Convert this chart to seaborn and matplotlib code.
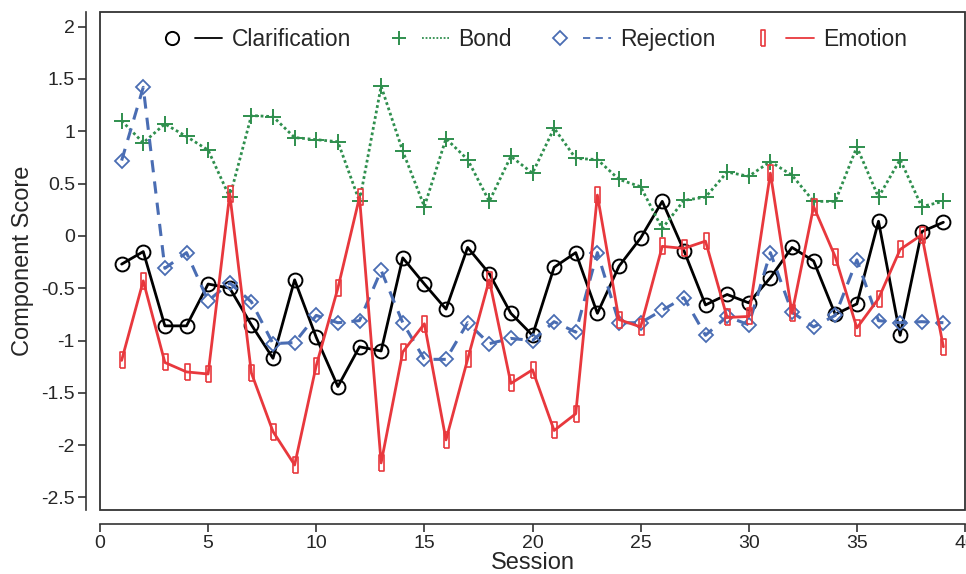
import numpy as np
import pandas as pd
import matplotlib
matplotlib.use('Agg')
import matplotlib.pyplot as plt
import seaborn as sns
from matplotlib.lines import Line2D
from matplotlib.patches import Rectangle
from matplotlib.legend_handler import HandlerTuple

# component scores per session
sessions = list(range(1, 40))
clarification = [-0.27, -0.15, -0.86, -0.86, -0.46, -0.50, -0.85, -1.17, -0.42, -0.97,
                 -1.44, -1.06, -1.10, -0.21, -0.46, -0.70, -0.11, -0.36, -0.74, -0.95,
                 -0.30, -0.16, -0.74, -0.29, -0.02, 0.33, -0.14, -0.66, -0.56, -0.64,
                 -0.40, -0.11, -0.24, -0.75, -0.65, 0.14, -0.95, 0.04, 0.13]
bond = [1.10, 0.89, 1.07, 0.95, 0.82, 0.37, 1.15, 1.14, 0.94, 0.92,
        0.90, 0.33, 1.43, 0.81, 0.28, 0.93, 0.73, 0.33, 0.76, 0.60,
        1.03, 0.74, 0.73, 0.54, 0.47, 0.07, 0.34, 0.37, 0.61, 0.57,
        0.71, 0.58, 0.33, 0.33, 0.85, 0.37, 0.73, 0.28, 0.33]
rejection = [0.72, 1.42, -0.31, -0.16, -0.62, -0.45, -0.63, -1.03, -1.02, -0.76,
             -0.83, -0.81, -0.33, -0.83, -1.18, -1.18, -0.83, -1.03, -0.98, -1.00,
             -0.82, -0.92, -0.16, -0.83, -0.83, -0.71, -0.59, -0.95, -0.77, -0.85,
             -0.16, -0.73, -0.87, -0.76, -0.23, -0.81, -0.83, -0.82, -0.83]
emotion = [-1.19, -0.43, -1.21, -1.30, -1.32, 0.40, -1.31, -1.87, -2.19, -1.24,
           -0.50, 0.37, -2.17, -1.11, -0.84, -1.95, -1.18, -0.42, -1.41, -1.28,
           -1.86, -1.70, 0.39, -0.80, -0.87, -0.10, -0.12, -0.05, -0.78, -0.77,
           0.60, -0.74, 0.28, -0.20, -0.88, -0.60, -0.13, 0.01, -1.06]

names = ['Clarification', 'Bond', 'Rejection', 'Emotion']
colors = ['black', '#2f8f4e', '#4a6db3', '#e8383d']

df = pd.DataFrame({'Session': sessions, 'Clarification': clarification, 'Bond': bond,
                   'Rejection': rejection, 'Emotion': emotion})

sns.set_style('ticks')
plt.rcParams['font.family'] = ['Liberation Sans', 'DejaVu Sans']

fig = plt.figure(figsize=(9.66, 5.74), dpi=100)
ax = fig.add_axes([100 / 966, 1 - 510 / 574, 865 / 966, 498 / 574])

tall_rect = [(-0.3, -1), (0.3, -1), (0.3, 1), (-0.3, 1), (-0.3, -1)]
styles = {
    'Clarification': dict(marker='o', ms=10, ls='-', lw=2.0, mew=1.4),
    'Bond': dict(marker='+', ms=11, ls=(0, (1, 1)), lw=2.0, mew=1.4),
    'Rejection': dict(marker='D', ms=7, ls=(0, (4, 3)), lw=2.2, mew=1.3),
    'Emotion': dict(marker=tall_rect, ms=12, ls='-', lw=2.0, mew=1.2),
}

handles = []
for name, col in zip(names, colors):
    st = styles[name]
    sns.lineplot(data=df, x='Session', y=name, ax=ax, color=col, linestyle=st['ls'],
                 linewidth=st['lw'], marker=st['marker'], markersize=st['ms'],
                 markerfacecolor='none', markeredgecolor=col, markeredgewidth=st['mew'])
    mk = Line2D([], [], ls='none', marker=st['marker'], ms=st['ms'] * 0.95, mfc='none',
                mec=col, mew=st['mew'])
    ln = Line2D([], [], color=col, ls=st['ls'], lw=1.3)
    handles.append((mk, ln))

ax.set_xlim(0, 40)
ax.set_ylim(-2.62, 2.14)
ax.set_xticks(np.arange(0, 41, 5))
ax.set_yticks(np.arange(-2.5, 2.01, 0.5))
ax.set_yticklabels(['-2.5', '-2', '-1.5', '-1', '-0.5', '0', '0.5', '1', '1.5', '2'])
ax.set_xlabel('Session', fontsize=17, labelpad=0)
ax.set_ylabel('Component Score', fontsize=17, labelpad=5)
ax.tick_params(labelsize=14, length=6, width=1.2, color='#333333', pad=2)

# axis lines pushed away from the frame, like the original
for side in ['top', 'right']:
    ax.spines[side].set_visible(False)
for side in ['left', 'bottom']:
    ax.spines[side].set_position(('outward', 10))
    ax.spines[side].set_linewidth(1.2)
    ax.spines[side].set_color('#333333')
ax.add_patch(Rectangle((0, 0), 1, 1, transform=ax.transAxes, fill=False,
                       lw=1.3, ec='#333333', clip_on=False, zorder=5))

ax.legend(handles, names, handler_map={tuple: HandlerTuple(ndivide=None, pad=0.4)},
          loc='upper center', ncol=4, frameon=False, fontsize=16.5, handlelength=2.8,
          handletextpad=0.4, columnspacing=1.5, borderaxespad=0.3)

fig.savefig('out.png', dpi=100)
